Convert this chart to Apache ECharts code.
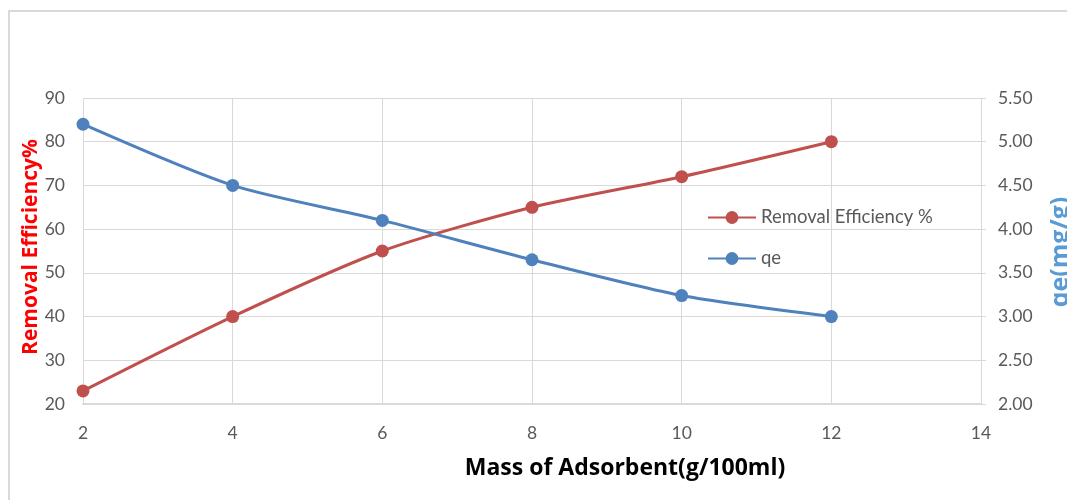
<!DOCTYPE html>
<html>
<head>
<meta charset="utf-8">
<script src="https://cdn.jsdelivr.net/npm/echarts@6/dist/echarts.min.js"></script>
<style>
  html, body { margin: 0; padding: 0; background: #fff; }
  #chart { width: 1067px; height: 500px; }
</style>
</head>
<body>
<div id="chart"></div>
<script>
// Adsorbent mass (g/100ml)
const mass = [2, 4, 6, 8, 10, 12];
// Removal efficiency (%)
const removalEfficiency = [23, 40, 55, 65, 72, 80];
// Equilibrium uptake qe (mg/g)
const qe = [5.2, 4.5, 4.1, 3.65, 3.24, 3.0];

const seriesNames = ['Removal Efficiency %', 'qe'];
const xTitle = 'Mass of Adsorbent(g/100ml)';
const yLeftTitle = 'Removal Efficiency%';
const yRightTitle = 'qe(mg/g)';

const FONT = 'Lato, "Open Sans", sans-serif';
const TITLE_FONT = '"Open Sans", "Liberation Sans", sans-serif';
const RED = '#C0504D';
const BLUE = '#4F81BD';

const chart = echarts.init(document.getElementById('chart'));
chart.setOption({
  backgroundColor: '#fff',
  animation: false,
  grid: { left: 83, right: 86, top: 98, bottom: 96 },
  legend: {
    orient: 'vertical',
    left: 702,
    top: 203,
    itemWidth: 48,
    itemHeight: 16,
    itemGap: 22,
    textStyle: { fontFamily: FONT, fontSize: 18.5, color: '#595959' },
    data: seriesNames
  },
  xAxis: {
    type: 'value',
    min: 2, max: 14, interval: 2,
    axisLine: { show: true, lineStyle: { color: '#d9d9d9', width: 2 } },
    axisTick: { show: false },
    splitLine: { show: true, lineStyle: { color: '#d9d9d9', width: 1 } },
    axisLabel: { fontFamily: FONT, fontSize: 17.5, color: '#595959', margin: 20 }
  },
  yAxis: [
    {
      type: 'value',
      min: 20, max: 90, interval: 10,
      axisLine: { show: false },
      axisTick: { show: false },
      splitLine: { show: true, lineStyle: { color: '#d9d9d9', width: 1 } },
      axisLabel: { fontFamily: FONT, fontSize: 17.5, color: '#595959', margin: 18 }
    },
    {
      type: 'value',
      min: 2, max: 5.5, interval: 0.5,
      position: 'right',
      axisLine: { show: true, lineStyle: { color: '#d9d9d9', width: 1 } },
      axisTick: { show: true, length: 5, inside: false, lineStyle: { color: '#d9d9d9' } },
      splitLine: { show: false },
      axisLabel: {
        fontFamily: FONT, fontSize: 17.5, color: '#595959', margin: 17,
        formatter: v => v.toFixed(2)
      }
    }
  ],
  graphic: [
    {
      type: 'rect', silent: true, z: -1,
      shape: { x: 9, y: 11, width: 1200, height: 600 },
      style: { fill: 'none', stroke: '#d9d9d9', lineWidth: 2 }
    },
    {
      type: 'text', x: 625, y: 468,
      style: {
        text: xTitle, fontFamily: TITLE_FONT, fontSize: 23, fontWeight: 'bold',
        fill: '#000', align: 'center', verticalAlign: 'middle'
      }
    },
    {
      type: 'text', x: 31, y: 247, rotation: Math.PI / 2,
      style: {
        text: yLeftTitle, fontFamily: TITLE_FONT, fontSize: 21, fontWeight: 'bold',
        fill: '#FF0000', align: 'center', verticalAlign: 'middle'
      }
    },
    {
      type: 'text', x: 1061, y: 252, rotation: Math.PI / 2,
      style: {
        text: yRightTitle, fontFamily: TITLE_FONT, fontSize: 25, fontWeight: 'bold',
        fill: '#5B9BD5', align: 'center', verticalAlign: 'middle'
      }
    }
  ],
  series: [
    {
      name: seriesNames[0],
      type: 'line',
      yAxisIndex: 0,
      smooth: 0.25,
      data: mass.map((m, i) => [m, removalEfficiency[i]]),
      symbol: 'circle',
      symbolSize: 13,
      itemStyle: { color: RED },
      lineStyle: { color: RED, width: 3 }
    },
    {
      name: seriesNames[1],
      type: 'line',
      yAxisIndex: 1,
      smooth: 0.25,
      data: mass.map((m, i) => [m, qe[i]]),
      symbol: 'circle',
      symbolSize: 13,
      itemStyle: { color: BLUE },
      lineStyle: { color: BLUE, width: 3 }
    }
  ]
});
</script>
</body>
</html>
